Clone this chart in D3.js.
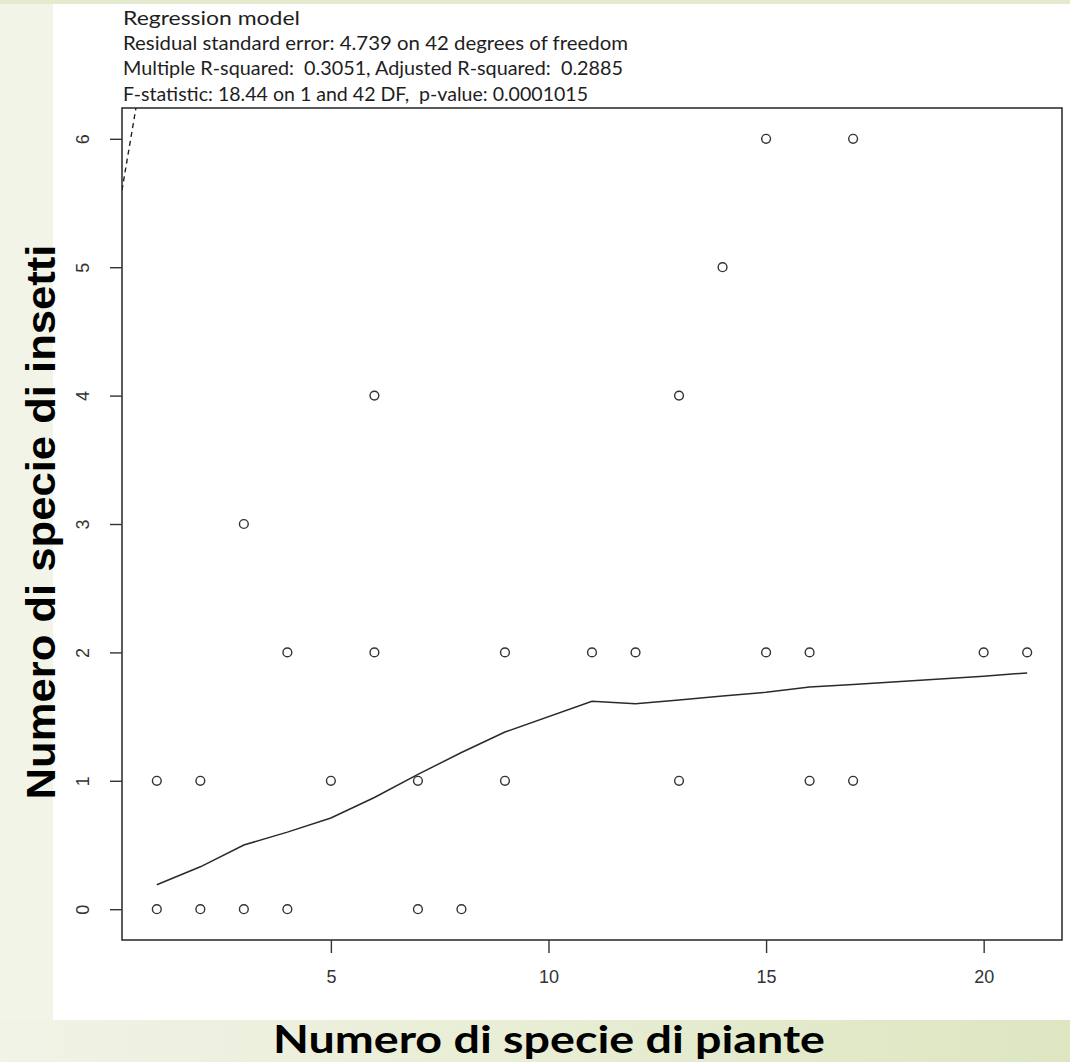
<!DOCTYPE html>
<html>
<head>
<meta charset="utf-8">
<script src="https://cdn.jsdelivr.net/npm/d3@7"></script>
<style>
  html, body { margin: 0; padding: 0; background: #f3f4e8; }
  svg { display: block; }
  .summary { white-space: pre; }
</style>
</head>
<body>
<svg id="chart" width="1070" height="1062"></svg>
<script>
// scatter data: plant species (x) vs insect species (y)
const plantSpecies  = [1, 2, 3, 4, 7, 8, 1, 2, 5, 7, 9, 13, 16, 17, 4, 6, 9, 11, 12, 15, 16, 20, 21, 3, 6, 13, 14, 15, 17];
const insectSpecies = [0, 0, 0, 0, 0, 0, 1, 1, 1, 1, 1, 1, 1, 1, 2, 2, 2, 2, 2, 2, 2, 2, 2, 3, 4, 4, 5, 6, 6];

// lowess smooth
const lowessX = [1, 2, 3, 4, 5, 6, 7, 8, 9, 11, 12, 13, 14, 15, 16, 17, 20, 21];
const lowessY = [0.19, 0.33, 0.50, 0.60, 0.71, 0.87, 1.05, 1.22, 1.38, 1.62, 1.60, 1.63, 1.66, 1.69, 1.73, 1.75, 1.815, 1.84];

// abline (dashed)
const regIntercept = 5.2;
const regSlope = 2.0;

const xTicks = [5, 10, 15, 20];
const yTicks = [0, 1, 2, 3, 4, 5, 6];

const summaryLines = [
  "Regression model",
  "Residual standard error: 4.739 on 42 degrees of freedom",
  "Multiple R-squared:  0.3051, Adjusted R-squared:  0.2885",
  "F-statistic: 18.44 on 1 and 42 DF,  p-value: 0.0001015"
];
const summaryWidths = [177, 505, 500, 465];

const svg = d3.select("#chart");

// slide background
let defs = svg.append("defs");
let grad = defs.append("linearGradient").attr("id", "band").attr("x1", "0%").attr("x2", "100%");
grad.append("stop").attr("offset", "0%").attr("stop-color", "#f1f3e6");
grad.append("stop").attr("offset", "45%").attr("stop-color", "#e9eed6");
grad.append("stop").attr("offset", "100%").attr("stop-color", "#dde6c1");

svg.append("rect").attr("width", 1070).attr("height", 1062).attr("fill", "#f3f4e8");
svg.append("rect").attr("x", 0).attr("y", 0).attr("width", 1070).attr("height", 4).attr("fill", "#e3eacd");
svg.append("rect").attr("x", 53).attr("y", 4).attr("width", 1017).attr("height", 1016).attr("fill", "#ffffff");
svg.append("rect").attr("x", 0).attr("y", 1020).attr("width", 1070).attr("height", 42).attr("fill", "url(#band)");

const plot = { left: 122, right: 1062, top: 108, bottom: 940 };

const x = d3.scaleLinear().domain([0.2, 21.8]).range([plot.left, plot.right]);
const y = d3.scaleLinear().domain([-0.24, 6.24]).range([plot.bottom, plot.top]);

defs.append("clipPath").attr("id", "clip")
  .append("rect")
  .attr("x", plot.left).attr("y", plot.top)
  .attr("width", plot.right - plot.left).attr("height", plot.bottom - plot.top);

// summary text
svg.append("g").selectAll("text")
  .data(summaryLines)
  .enter()
  .append("text")
  .attr("class", "summary")
  .attr("xml:space", "preserve")
  .attr("x", 123)
  .attr("y", (d, i) => 25 + i * 25.2)
  .attr("textLength", (d, i) => summaryWidths[i])
  .attr("lengthAdjust", "spacingAndGlyphs")
  .style("font-family", "Lato, 'Noto Sans', sans-serif")
  .style("font-size", "20px")
  .style("fill", "#1e1e1e")
  .text(d => d);

// axes
let xAxis = svg.append("g")
  .attr("transform", `translate(0,${plot.bottom})`)
  .call(d3.axisBottom(x).tickValues(xTicks).tickSize(13).tickPadding(17).tickFormat(d3.format("d")));
xAxis.select(".domain").remove();
xAxis.selectAll("line").attr("stroke", "#333").attr("stroke-width", 1.4);
xAxis.selectAll("text")
  .style("font-family", "'Liberation Sans', Arial, sans-serif")
  .style("font-size", "18px")
  .style("fill", "#333");

let yAxis = svg.append("g")
  .attr("transform", `translate(${plot.left},0)`)
  .call(d3.axisLeft(y).tickValues(yTicks).tickSize(12).tickFormat(d3.format("d")));
yAxis.select(".domain").remove();
yAxis.selectAll("line").attr("stroke", "#333").attr("stroke-width", 1.4);
yAxis.selectAll("text")
  .attr("transform", "rotate(-90)")
  .attr("x", 0)
  .attr("y", -39)
  .attr("dy", "0.35em")
  .style("text-anchor", "middle")
  .style("font-family", "'Liberation Sans', Arial, sans-serif")
  .style("font-size", "18px")
  .style("fill", "#333");

// plot box
svg.append("rect")
  .attr("x", plot.left).attr("y", plot.top)
  .attr("width", plot.right - plot.left).attr("height", plot.bottom - plot.top)
  .attr("fill", "none")
  .attr("stroke", "#333")
  .attr("stroke-width", 1.6);

// regression line (dashed), clipped to the box
let xd = x.domain();
svg.append("line")
  .attr("clip-path", "url(#clip)")
  .attr("x1", x(xd[0])).attr("y1", y(regIntercept + regSlope * xd[0]))
  .attr("x2", x(xd[1])).attr("y2", y(regIntercept + regSlope * xd[1]))
  .attr("stroke", "#222")
  .attr("stroke-width", 1.4)
  .attr("stroke-dasharray", "5,4");

// lowess line
let lowess = lowessX.map((v, i) => [v, lowessY[i]]);
svg.append("path")
  .datum(lowess)
  .attr("d", d3.line().x(d => x(d[0])).y(d => y(d[1])))
  .attr("fill", "none")
  .attr("stroke", "#2a2a2a")
  .attr("stroke-width", 1.5);

// points
svg.append("g").selectAll("circle")
  .data(plantSpecies.map((v, i) => ({ px: v, py: insectSpecies[i] })))
  .enter()
  .append("circle")
  .attr("cx", d => x(d.px))
  .attr("cy", d => y(d.py))
  .attr("r", 4.4)
  .attr("fill", "none")
  .attr("stroke", "#333")
  .attr("stroke-width", 1.4);

// axis titles
svg.append("text")
  .attr("transform", "translate(55,522) rotate(-90)")
  .attr("text-anchor", "middle")
  .attr("textLength", 555)
  .attr("lengthAdjust", "spacingAndGlyphs")
  .style("font-family", "'Liberation Sans', Arial, sans-serif")
  .style("font-weight", "bold")
  .style("font-size", "40px")
  .style("fill", "#000")
  .text("Numero di specie di insetti");

svg.append("text")
  .attr("x", 549)
  .attr("y", 1053)
  .attr("text-anchor", "middle")
  .attr("textLength", 552)
  .attr("lengthAdjust", "spacingAndGlyphs")
  .style("font-family", "Lato, 'Noto Sans', sans-serif")
  .style("font-weight", "bold")
  .style("font-size", "38px")
  .style("fill", "#000")
  .text("Numero di specie di piante");
</script>
</body>
</html>
